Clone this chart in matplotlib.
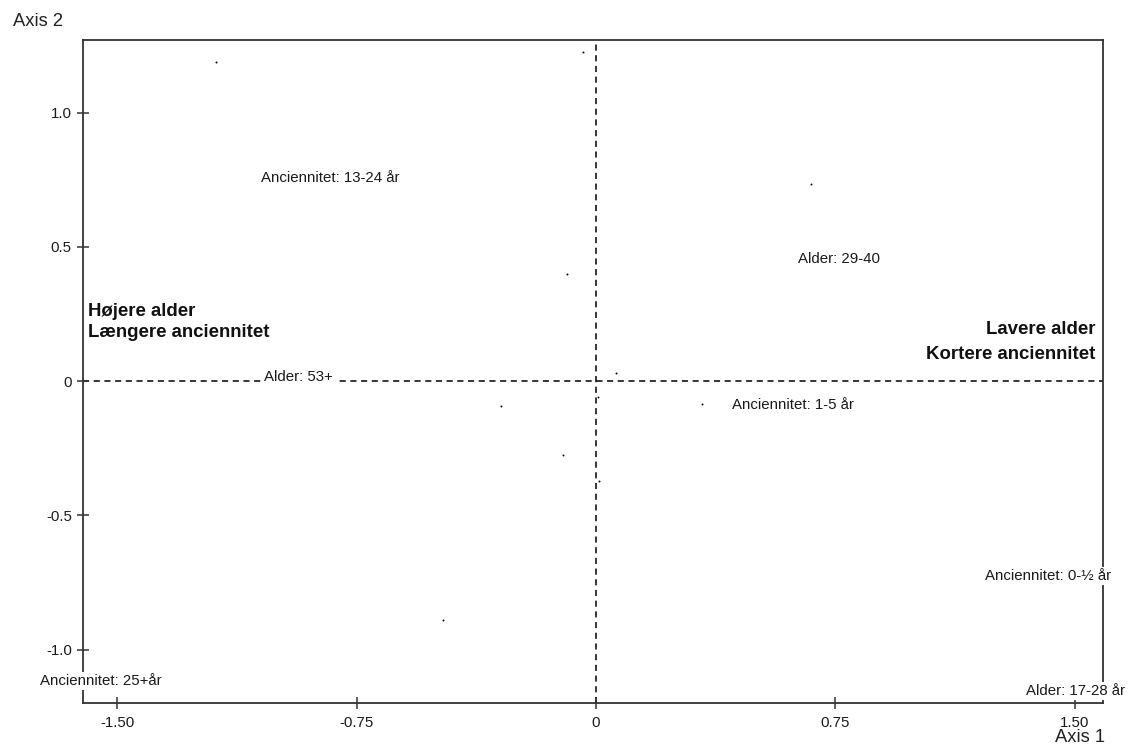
import matplotlib
matplotlib.use("Agg")
import matplotlib.pyplot as plt

plt.rcParams['font.family'] = ['Liberation Sans', 'DejaVu Sans']

# Individual observations (small dots)
obs_x = [-1.190, -0.041, 0.673, -0.091, 0.063, -0.298, 0.006, 0.332, -0.103, 0.009, -0.479]
obs_y = [1.188, 1.225, 0.734, 0.399, 0.030, -0.093, -0.060, -0.086, -0.276, -0.372, -0.890]

# Category coordinates (labels)
cat_labels = ["Anciennitet: 13-24 år", "Alder: 29-40", "Alder: 53+",
              "Anciennitet: 1-5 år", "Anciennitet: 0-½ år", "Alder: 17-28 år",
              "Anciennitet: 25+år"]
cat_x = [-0.833, 0.761, -0.933, 0.617, 1.416, 1.503, -1.550]
cat_y = [0.755, 0.455, 0.015, -0.089, -0.726, -1.154, -1.117]

x_ticks = [-1.50, -0.75, 0, 0.75, 1.50]
x_ticklabels = ["-1.50", "-0.75", "0", "0.75", "1.50"]
y_ticks = [-1.0, -0.5, 0, 0.5, 1.0]
y_ticklabels = ["-1.0", "-0.5", "0", "0.5", "1.0"]

fig = plt.figure(figsize=(11.43, 7.44), dpi=100)
ax = fig.add_axes([0.0726, 0.0551, 0.8924, 0.8911])
ax.set_xlim(-1.607, 1.588)
ax.set_ylim(-1.199, 1.270)

ax.axhline(0, color='black', lw=1.1, ls=(0, (4, 3)), zorder=1)
ax.axvline(0, color='black', lw=1.1, ls=(0, (4, 3)), zorder=1)

ax.plot(obs_x, obs_y, 'o', ms=1.4, color='black', mec='none', zorder=2)

for lab, x, y in zip(cat_labels, cat_x, cat_y):
    ax.text(x, y, lab, ha='center', va='center', fontsize=10.8, color='#1a1a1a',
            bbox=dict(facecolor='white', edgecolor='none', pad=1.5),
            clip_on=False, zorder=5)

ax.text(0.005, 0.574, "Højere alder\nLængere anciennitet", transform=ax.transAxes,
        ha='left', va='center', fontsize=13.4, fontweight='bold', color='#111111',
        linespacing=1.31)
ax.text(0.993, 0.545, "Lavere alder\nKortere anciennitet", transform=ax.transAxes,
        ha='right', va='center', fontsize=13.4, fontweight='bold', color='#111111',
        linespacing=1.61)

for s in ax.spines.values():
    s.set_linewidth(1.3)
    s.set_color('#333333')

ax.set_xticks(x_ticks)
ax.set_xticklabels(x_ticklabels)
ax.set_yticks(y_ticks)
ax.set_yticklabels(y_ticklabels)
ax.tick_params(direction='inout', length=8, width=1.1, color='#333333',
               labelsize=10.8, labelcolor='#1a1a1a', pad=4)
ax.tick_params(axis='x', pad=5)

fig.text(13 / 1143, 1 - 22 / 744, "Axis 2", ha='left', va='center', fontsize=13.2, color='#222222')
fig.text(1105 / 1143, 1 - 737 / 744, "Axis 1", ha='right', va='center', fontsize=13.2, color='#222222')

fig.savefig("out.png", dpi=100)
